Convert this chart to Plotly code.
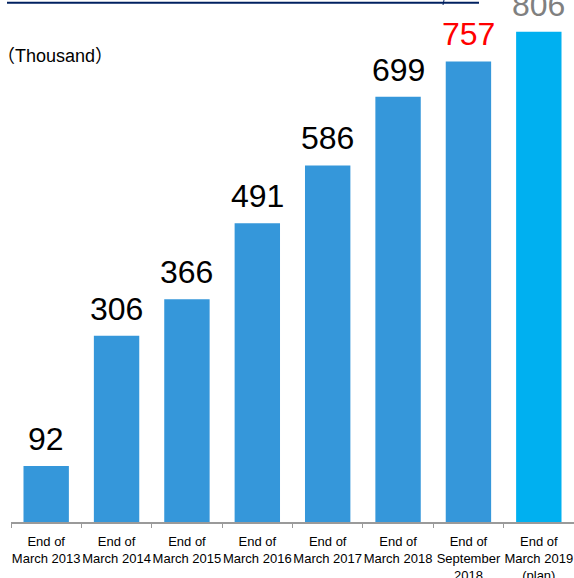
import plotly.graph_objects as go

categories = [
    "End of<br>March 2013",
    "End of<br>March 2014",
    "End of<br>March 2015",
    "End of<br>March 2016",
    "End of<br>March 2017",
    "End of<br>March 2018",
    "End of<br>September<br>2018",
    "End of<br>March 2019<br>(plan)",
]
values = [92, 306, 366, 491, 586, 699, 757, 806]
bar_colors = ["#3597DA"] * 7 + ["#00B0F0"]
label_colors = ["#000000"] * 6 + ["#FF0000", "#808080"]
unit_label = "（Thousand）"

W, H = 574, 578
ML, MR, MT, MB = 11, 0, 0, 56
PW, PH = W - ML - MR, H - MT - MB


def px_x(p):
    return (p - ML) / PW


def px_y(p):
    return (H - MB - p) / PH


fig = go.Figure()
fig.add_trace(go.Bar(
    x=categories,
    y=values,
    marker=dict(color=bar_colors, line=dict(width=0)),
    hoverinfo="skip",
))

annotations = []
for c, v, col in zip(categories, values, label_colors):
    annotations.append(dict(
        x=c, y=v, xref="x", yref="y",
        text=str(v), showarrow=False,
        yanchor="bottom", xanchor="center", yshift=7,
        font=dict(family="Liberation Sans, Arial, sans-serif", size=32, color=col),
    ))
annotations.append(dict(
    x=px_x(-5), y=px_y(56), xref="paper", yref="paper",
    text=unit_label, showarrow=False, xanchor="left", yanchor="middle",
    font=dict(family="Liberation Sans, Noto Sans CJK JP, sans-serif", size=18, color="#000000"),
))

shapes = [
    dict(type="line", xref="paper", yref="paper",
         x0=px_x(7), x1=px_x(479), y0=px_y(2.7), y1=px_y(2.7),
         line=dict(color="#002060", width=2)),
    dict(type="line", xref="paper", yref="paper",
         x0=px_x(444), x1=px_x(443), y0=px_y(0), y1=px_y(5),
         line=dict(color="#002060", width=1)),
]

fig.update_layout(
    width=W, height=H,
    margin=dict(l=ML, r=MR, t=MT, b=MB, pad=0, autoexpand=False),
    paper_bgcolor="white", plot_bgcolor="white",
    bargap=0.355,
    showlegend=False,
    annotations=annotations,
    shapes=shapes,
    xaxis=dict(
        type="category",
        range=[-0.5, 7.5],
        automargin=False,
        tickangle=0,
        showline=True, linecolor="#9A9A9A", linewidth=1.5,
        ticks="outside", tickson="boundaries", ticklen=4, tickcolor="#9A9A9A", tickwidth=1,
        ticklabelstandoff=7,
        tickfont=dict(family="Liberation Sans, Arial, sans-serif", size=13, color="#000000"),
        showgrid=False, zeroline=False,
    ),
    yaxis=dict(
        range=[0, 858],
        visible=False, showgrid=False, zeroline=False,
        automargin=False,
    ),
)

fig.write_html(
    "out.html",
    config={"displayModeBar": False, "staticPlot": True},
    post_script="document.body.style.margin='0';document.body.style.overflow='hidden';",
)
